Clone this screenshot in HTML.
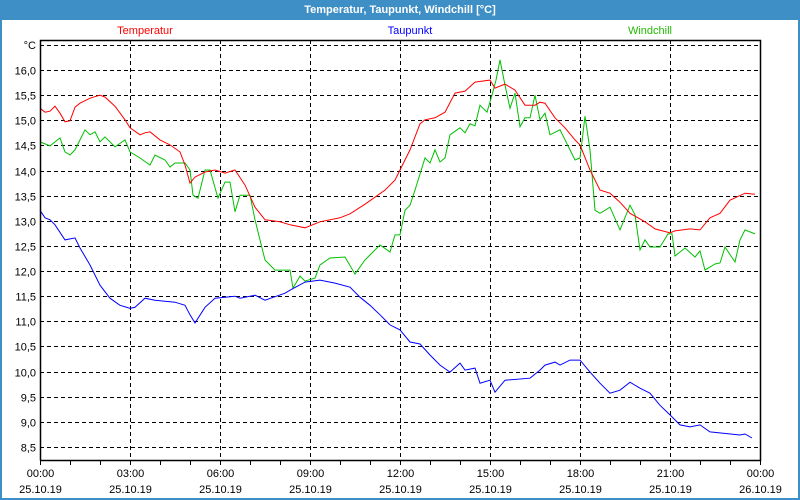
<!DOCTYPE html>
<html><head><meta charset="utf-8">
<style>
html,body{margin:0;padding:0;background:#fff;}
#wrap{position:relative;width:800px;height:500px;overflow:hidden;font-family:"Liberation Sans",sans-serif;}
svg text{font-family:"Liberation Sans",sans-serif;font-size:11px;}
</style></head>
<body>
<div id="wrap">
<svg id="chart" width="800" height="500">
  <rect x="0" y="0" width="800" height="500" fill="#fff"/>
  <rect x="0" y="0" width="800" height="20" fill="#3d8fc6"/>
  <rect x="0.5" y="0.5" width="799" height="499" fill="none" stroke="#3d8fc6" stroke-width="3"/>
  <text x="400" y="13" text-anchor="middle" fill="#fff" font-weight="bold">Temperatur, Taupunkt, Windchill [°C]</text>
  <text x="145" y="34" text-anchor="middle" fill="#ff0000">Temperatur</text>
  <text x="410" y="34" text-anchor="middle" fill="#0000ff">Taupunkt</text>
  <text x="650" y="34" text-anchor="middle" fill="#22bb00">Windchill</text>
  <text x="36" y="49" text-anchor="end" fill="#000">°C</text>
  <g id="grid"></g>
  <g id="series"></g>
  <g id="axes"></g>
</svg>
</div>
<script>
const yTicks = [16.5,16.0,15.5,15.0,14.5,14.0,13.5,13.0,12.5,12.0,11.5,11.0,10.5,10.0,9.5,9.0,8.5];
const yTickLabels = ["","16,0","15,5","15,0","14,5","14,0","13,5","13,0","12,5","12,0","11,5","11,0","10,5","10,0","9,5","9,0","8,5"];
const xTickHours = [0,3,6,9,12,15,18,21,24];
const xTickTimes = ["00:00","03:00","06:00","09:00","12:00","15:00","18:00","21:00","00:00"];
const xTickDates = ["25.10.19","25.10.19","25.10.19","25.10.19","25.10.19","25.10.19","25.10.19","25.10.19","26.10.19"];

const tempMinutes = [0,10,20,30,40,50,60,70,80,100,120,130,150,170,180,200,210,220,240,260,280,290,300,310,330,350,370,390,410,430,450,480,500,530,560,600,620,650,690,710,720,740,760,770,790,810,830,850,870,900,910,930,950,970,990,1000,1010,1030,1050,1070,1080,1100,1120,1140,1160,1180,1210,1230,1260,1270,1300,1320,1340,1360,1380,1410,1430];
const tempValues = [15.24,15.16,15.18,15.28,15.14,14.97,14.99,15.26,15.34,15.44,15.50,15.46,15.28,15.01,14.85,14.71,14.75,14.77,14.61,14.51,14.37,14.11,13.75,13.87,13.97,14.01,13.95,14.01,13.71,13.27,13.02,12.98,12.92,12.86,12.98,13.06,13.14,13.33,13.61,13.81,14.01,14.41,14.93,15.01,15.05,15.16,15.54,15.58,15.76,15.80,15.64,15.72,15.60,15.30,15.30,15.36,15.34,15.05,14.85,14.61,14.51,14.01,13.61,13.55,13.37,13.15,12.98,12.84,12.76,12.80,12.84,12.82,13.06,13.15,13.41,13.55,13.53];

const dewMinutes = [0,10,20,30,50,70,80,100,120,140,160,180,190,210,230,270,290,300,310,330,350,390,400,430,450,490,500,530,560,590,620,640,660,680,700,720,740,760,780,800,820,840,850,870,880,900,910,930,980,1000,1010,1030,1040,1060,1080,1100,1120,1140,1160,1180,1200,1220,1240,1260,1280,1300,1320,1340,1400,1410,1424];
const dewValues = [13.21,13.06,13.02,12.92,12.62,12.66,12.46,12.12,11.72,11.46,11.32,11.26,11.28,11.46,11.42,11.38,11.32,11.13,10.97,11.28,11.46,11.50,11.46,11.52,11.42,11.56,11.62,11.78,11.82,11.76,11.68,11.48,11.32,11.13,10.93,10.83,10.59,10.55,10.33,10.13,9.99,10.17,10.03,10.07,9.77,9.83,9.59,9.83,9.87,10.03,10.13,10.19,10.13,10.23,10.23,9.99,9.77,9.57,9.63,9.79,9.67,9.57,9.33,9.14,8.94,8.90,8.94,8.80,8.74,8.76,8.68];

const chillMinutes = [0,20,40,50,60,70,80,90,100,110,120,130,150,170,180,200,220,230,250,260,270,290,300,306,316,330,340,356,370,380,390,400,420,430,450,470,500,506,520,530,550,560,580,610,630,650,660,680,700,710,720,730,740,750,770,780,790,800,810,820,840,850,860,870,880,894,904,912,920,930,940,950,960,970,980,990,1000,1010,1020,1040,1060,1070,1080,1090,1100,1110,1120,1140,1160,1180,1190,1200,1210,1220,1240,1256,1264,1270,1290,1310,1320,1330,1350,1360,1370,1390,1400,1410,1430];
const chillValues = [14.57,14.49,14.65,14.37,14.31,14.41,14.61,14.81,14.71,14.77,14.57,14.67,14.47,14.61,14.37,14.25,14.11,14.31,14.21,14.07,14.15,14.15,14.01,13.51,13.45,14.01,14.01,13.45,13.77,13.77,13.18,13.51,13.51,13.02,12.22,12.02,12.02,11.66,11.90,11.80,11.86,12.12,12.26,12.28,11.94,12.22,12.32,12.52,12.38,12.72,12.72,13.21,13.31,13.61,14.25,14.15,14.41,14.17,14.25,14.71,14.85,14.75,14.93,14.89,15.30,15.16,15.50,15.80,16.20,15.70,15.24,15.54,14.87,15.05,15.05,15.50,15.01,15.14,14.71,14.81,14.41,14.21,14.25,15.08,14.41,13.21,13.15,13.27,12.82,13.31,13.12,12.42,12.62,12.48,12.48,12.74,12.74,12.30,12.46,12.28,12.40,12.02,12.14,12.16,12.48,12.18,12.62,12.82,12.74];

const NS='http://www.w3.org/2000/svg';
const X0=40,X1=760,Y0=40,Y1=460;
function xScale(min){return X0+(X1-X0)*min/1440;}
function yScale(v){return 70+(16-v)*50.27;}
function mk(tag,attrs,parent){const e=document.createElementNS(NS,tag);for(const k in attrs)e.setAttribute(k,attrs[k]);parent.appendChild(e);return e;}
const grid=document.getElementById('grid'),axes=document.getElementById('axes'),series=document.getElementById('series');

yTicks.forEach((v,i)=>{
  const y=Math.round(yScale(v))+0.5;
  const l=mk('line',{x1:X0,x2:X1,y1:y,y2:y,stroke:'#000','stroke-dasharray':'4,3','stroke-width':1},grid);
  
  
  if(yTickLabels[i]){
    const t=mk('text',{x:36,y:y+4,'text-anchor':'end',fill:'#000'},axes);
    t.textContent=yTickLabels[i];
    
    
  }
});
xTickHours.forEach((h,i)=>{
  const x=Math.round(xScale(h*60))+0.5;
  if(i>0&&i<xTickHours.length-1){
    const l=mk('line',{x1:x,x2:x,y1:Y0,y2:Y1,stroke:'#000','stroke-dasharray':'4,3','stroke-width':1},grid);
    
    
  }
  const t=mk('text',{x:x,y:477,'text-anchor':'middle',fill:'#000'},axes);
  t.textContent=xTickTimes[i];
  
  
  const d=mk('text',{x:x,y:493,'text-anchor':'middle',fill:'#000'},axes);
  d.textContent=xTickDates[i];
  
  
});
for(let h=0;h<=24;h++){
  const x=Math.round(xScale(h*60))+0.5;
  const l=mk('line',{x1:x,x2:x,y1:Y1,y2:Y1+5,stroke:'#000'},axes);
  
  
}
const frame=mk('path',{d:`M${X0+0.5},${Y1+0.5} V${Y0+0.5} H${X1+0.5} V${Y1+0.5} H${X0+0.5}`,fill:'none',stroke:'#000','stroke-width':1.5},axes);



function drawLine(mins,vals,color,name){
  const pts=mins.map((m,i)=>xScale(m).toFixed(1)+','+yScale(vals[i]).toFixed(1)).join(' ');
  const p=mk('polyline',{points:pts,fill:'none',stroke:color,'stroke-width':1},series);
  
  
}
drawLine(chillMinutes,chillValues,'#00c000','windchill-line');
drawLine(tempMinutes,tempValues,'#ff0000','temperatur-line');
drawLine(dewMinutes,dewValues,'#0000ff','taupunkt-line');
</script>
</body></html>
